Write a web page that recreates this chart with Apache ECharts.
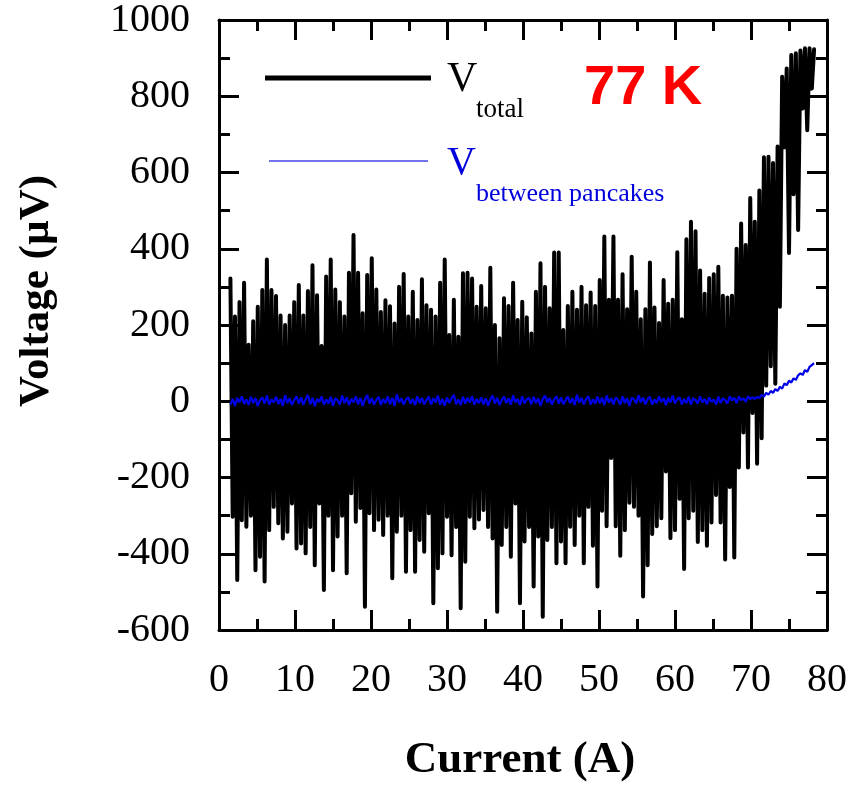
<!DOCTYPE html>
<html>
<head>
<meta charset="utf-8">
<title>Voltage vs current, 77 K</title>
<script src="https://cdn.jsdelivr.net/npm/echarts@6.0.0/dist/echarts.min.js"></script>
<style>
	html, body { margin: 0; padding: 0; background: #fff; }
	#chart { width: 851px; height: 786px; }
</style>
</head>
<body>
<div id="chart"></div>
<script>
// current ramp (A), one row = 3 A
const currentA = [
	1.5, 1.8, 2.1, 2.4, 2.7, 3.0, 3.3, 3.6, 3.9, 4.2,
	4.5, 4.8, 5.1, 5.4, 5.7, 6.0, 6.3, 6.6, 6.9, 7.2,
	7.5, 7.8, 8.1, 8.4, 8.7, 9.0, 9.3, 9.6, 9.9, 10.2,
	10.5, 10.8, 11.1, 11.4, 11.7, 12.0, 12.3, 12.6, 12.9, 13.2,
	13.5, 13.8, 14.1, 14.4, 14.7, 15.0, 15.3, 15.6, 15.9, 16.2,
	16.5, 16.8, 17.1, 17.4, 17.7, 18.0, 18.3, 18.6, 18.9, 19.2,
	19.5, 19.8, 20.1, 20.4, 20.7, 21.0, 21.3, 21.6, 21.9, 22.2,
	22.5, 22.8, 23.1, 23.4, 23.7, 24.0, 24.3, 24.6, 24.9, 25.2,
	25.5, 25.8, 26.1, 26.4, 26.7, 27.0, 27.3, 27.6, 27.9, 28.2,
	28.5, 28.8, 29.1, 29.4, 29.7, 30.0, 30.3, 30.6, 30.9, 31.2,
	31.5, 31.8, 32.1, 32.4, 32.7, 33.0, 33.3, 33.6, 33.9, 34.2,
	34.5, 34.8, 35.1, 35.4, 35.7, 36.0, 36.3, 36.6, 36.9, 37.2,
	37.5, 37.8, 38.1, 38.4, 38.7, 39.0, 39.3, 39.6, 39.9, 40.2,
	40.5, 40.8, 41.1, 41.4, 41.7, 42.0, 42.3, 42.6, 42.9, 43.2,
	43.5, 43.8, 44.1, 44.4, 44.7, 45.0, 45.3, 45.6, 45.9, 46.2,
	46.5, 46.8, 47.1, 47.4, 47.7, 48.0, 48.3, 48.6, 48.9, 49.2,
	49.5, 49.8, 50.1, 50.4, 50.7, 51.0, 51.3, 51.6, 51.9, 52.2,
	52.5, 52.8, 53.1, 53.4, 53.7, 54.0, 54.3, 54.6, 54.9, 55.2,
	55.5, 55.8, 56.1, 56.4, 56.7, 57.0, 57.3, 57.6, 57.9, 58.2,
	58.5, 58.8, 59.1, 59.4, 59.7, 60.0, 60.3, 60.6, 60.9, 61.2,
	61.5, 61.8, 62.1, 62.4, 62.7, 63.0, 63.3, 63.6, 63.9, 64.2,
	64.5, 64.8, 65.1, 65.4, 65.7, 66.0, 66.3, 66.6, 66.9, 67.2,
	67.5, 67.8, 68.1, 68.4, 68.7, 69.0, 69.3, 69.6, 69.9, 70.2,
	70.5, 70.8, 71.1, 71.4, 71.7, 72.0, 72.3, 72.6, 72.9, 73.2,
	73.5, 73.8, 74.1, 74.4, 74.7, 75.0, 75.3, 75.6, 75.9, 76.2,
	76.5, 76.8, 77.1, 77.4, 77.7, 78.0, 78.3
];

// V total (uV)
const vTotal = [
	322, -303, 222, -469, 260, -312, 311, -329, 148, -300,
	210, -443, 248, -408, 292, -473, 372, -338, 292, -277,
	276, -320, 225, -360, 200, -342, 225, -268, 260, -386,
	305, -373, 225, -399, 289, -330, 357, -430, 278, -268,
	145, -495, 327, -300, 372, -443, 293, -355, 260, -300,
	222, -451, 337, -241, 436, -316, 337, -280, 231, -539,
	331, -294, 375, -338, 293, -311, 234, -351, 265, -300,
	249, -464, 204, -342, 300, -300, 334, -447, 222, -338,
	287, -447, 213, -364, 320, -395, 252, -294, 240, -530,
	222, -438, 311, -399, 372, -303, 174, -404, 266, -330,
	169, -543, 336, -421, 337, -303, 322, -333, 248, -310,
	302, -285, 244, -330, 350, -360, 200, -552, 165, -377,
	270, -330, 250, -408, 311, -268, 213, -530, 261, -368,
	220, -330, 178, -486, 287, -355, 362, -565, 300, -364,
	244, -330, 390, -425, 390, -368, 187, -425, 250, -329,
	287, -377, 240, -300, 300, -425, 252, -277, 285, -379,
	250, -486, 318, -287, 432, -328, 266, -149, 432, -328,
	266, -405, 333, -338, 241, -266, 379, -277, 287, -300,
	215, -512, 241, -430, 364, -348, 246, -328, 205, -307,
	318, -184, 256, -359, 266, -338, 391, -256, 215, -440,
	425, -307, 471, -287, 446, -369, 343, -338, 282, -379,
	323, -318, 333, -246, 353, -318, 277, -415, 272, -225,
	277, -410, 400, -174, 466, -82, 410, -174, 533, -31,
	471, -164, 553, -97, 640, 41, 641, 92, 625, 46,
	668, 248, 851, 666, 873, 389, 908, 543, 913, 449,
	920, 768, 926, 711, 926, 820, 923
];

// V between pancakes (uV)
const vPancakes = [
	-9, 6, -12, 9, -3, 13, -7, 5, -10, 12,
	-5, 9, -13, 3, 10, -6, 15, -9, 5, -3,
	12, -7, 6, -12, 16, -5, 8, -10, 3, 13,
	-6, 10, -9, 5, 17, -8, 9, -13, 6, -2,
	13, -9, 5, -6, 12, -12, 8, 3, -9, 15,
	-5, 10, -10, 6, -3, 13, -8, 9, -12, 5,
	16, -6, 8, -9, 3, 12, -10, 6, -5, 13,
	-8, 9, -12, 18, -3, 8, -9, 5, 10, -6,
	6, -10, 13, -5, 9, -8, 3, 12, -9, 8,
	-3, 15, -9, 6, -12, 10, -5, 8, 17, -8,
	5, -10, 12, -6, 9, -3, 13, -9, 6, -5,
	10, -8, 8, -12, 5, 15, -6, 9, -10, 3,
	12, -5, 8, -9, 16, -3, 6, -10, 13, -6,
	5, 9, -8, 12, -5, 8, -12, 6, 15, -3,
	9, -9, 5, 13, -6, 10, -8, 3, 12, -5,
	8, -10, 17, -3, 9, -8, 6, 13, -9, 5,
	-6, 12, -5, 9, -10, 15, -3, 8, -8, 10,
	3, -9, 13, -5, 8, -12, 9, 5, -6, 16,
	-3, 10, -8, 6, 12, -9, 5, -5, 13, -2,
	8, -10, 9, -3, 15, -6, 5, 10, -8, 6,
	-5, 12, -9, 8, 3, -6, 13, -3, 6, -8,
	10, -2, 5, -9, 12, -5, 8, 3, -6, 13,
	2, 9, -5, 12, 3, 8, -2, 13, 6, 10,
	6, 12, 8, 17, 12, 22, 17, 27, 22, 32,
	27, 38, 33, 47, 42, 54, 49, 60, 56, 68,
	73, 69, 82, 77, 90, 95, 100
];

const xTicks = { min: 0, max: 80, interval: 10 };
const yTicks = { min: -600, max: 1000, interval: 200 };

const serif = "'Liberation Serif', 'Times New Roman', serif";

function toPairs(ys) {
	return currentA.map((x, i) => [x, ys[i]]);
}

function boxAxis(range, pos, showLabel) {
	return {
		type: "value",
		position: pos,
		min: range.min,
		max: range.max,
		interval: range.interval,
		splitLine: { show: false },
		axisLine: { show: true, onZero: false, lineStyle: { color: "#000", width: 3 } },
		axisTick: { show: true, inside: true, length: 20, lineStyle: { color: "#000", width: 3 } },
		minorTick: { show: true, splitNumber: 2, length: 11, lineStyle: { color: "#000", width: 3 } },
		axisLabel: {
			show: showLabel,
			color: "#000",
			fontFamily: serif,
			fontSize: 40,
			margin: pos === "bottom" ? 30 : 29,
			formatter: v => String(v)
		}
	};
}

let myChart = echarts.init(document.getElementById("chart"), null, { renderer: "canvas" });

let option = {
	animation: false,
	backgroundColor: "#fff",
	grid: { left: 219, top: 20, width: 608, height: 610 },
	xAxis: [boxAxis(xTicks, "bottom", true), boxAxis(xTicks, "top", false)],
	yAxis: [boxAxis(yTicks, "left", true), boxAxis(yTicks, "right", false)],
	series: [
		{
			name: "V total",
			type: "line",
			xAxisIndex: 0,
			yAxisIndex: 0,
			data: toPairs(vTotal),
			showSymbol: false,
			silent: true,
			lineStyle: { color: "#000", width: 4, join: "round", cap: "round" }
		},
		{
			name: "V between pancakes",
			type: "line",
			xAxisIndex: 0,
			yAxisIndex: 0,
			data: toPairs(vPancakes),
			showSymbol: false,
			silent: true,
			lineStyle: { color: "#0000e8", width: 2.2 }
		}
	],
	graphic: [
		// axis titles
		{
			type: "text",
			x: 520,
			y: 760,
			style: { text: "Current (A)", fill: "#000", font: "bold 45px " + serif, align: "center", verticalAlign: "middle" }
		},
		{
			type: "text",
			x: 37,
			y: 291,
			rotation: Math.PI / 2,
			style: { text: "Voltage (µV)", fill: "#000", font: "bold 43px " + serif, align: "center", verticalAlign: "middle" }
		},
		// legend
		{
			type: "line",
			shape: { x1: 265, y1: 78, x2: 431, y2: 78 },
			style: { stroke: "#000", lineWidth: 5 }
		},
		{
			type: "text",
			x: 447,
			y: 80,
			style: { text: "V", fill: "#000", font: "42px " + serif, align: "left", verticalAlign: "middle" }
		},
		{
			type: "text",
			x: 476,
			y: 110,
			style: { text: "total", fill: "#000", font: "27px " + serif, align: "left", verticalAlign: "middle" }
		},
		{
			type: "line",
			shape: { x1: 269, y1: 161, x2: 428, y2: 161 },
			style: { stroke: "#7474ee", lineWidth: 2 }
		},
		{
			type: "text",
			x: 447,
			y: 163,
			style: { text: "V", fill: "#0000dd", font: "40px " + serif, align: "left", verticalAlign: "middle" }
		},
		{
			type: "text",
			x: 476,
			y: 194,
			style: { text: "between pancakes", fill: "#0000dd", font: "26px " + serif, align: "left", verticalAlign: "middle" }
		},
		// temperature tag
		{
			type: "text",
			x: 584,
			y: 89,
			style: { text: "77 K", fill: "#ff0000", font: "bold 56px 'Liberation Sans', Arial, sans-serif", align: "left", verticalAlign: "middle" }
		}
	]
};

myChart.setOption(option);
</script>
</body>
</html>
